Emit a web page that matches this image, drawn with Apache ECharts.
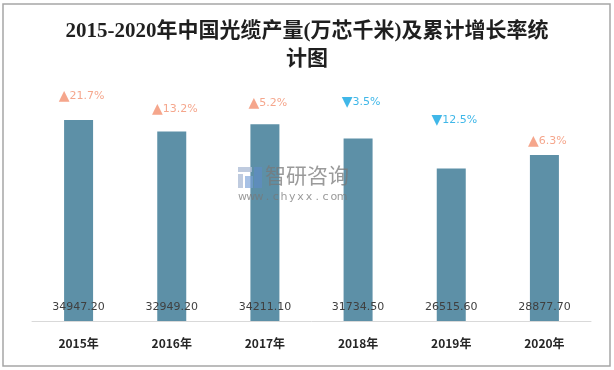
<!DOCTYPE html>
<html>
<head>
<meta charset="utf-8">
<script src="https://cdn.jsdelivr.net/npm/echarts@6/dist/echarts.min.js"></script>
<style>html,body{margin:0;padding:0;background:#fff}#c{width:614px;height:370px}</style>
</head>
<body>
<div id="c"></div>
<script>
const categories = ['2015年', '2016年', '2017年', '2018年', '2019年', '2020年'];
const output = [34947.20, 32949.20, 34211.10, 31734.50, 26515.60, 28877.70];
const growth = [21.7, 13.2, 5.2, -3.5, -12.5, 6.3];
const yTicks = { min: 0, max: 40000 };

// label lift above bar top (layout only)
const lift = [17, 15, 14, 29, 41, 7];

const UP = '#F2906F', DOWN = '#10A5E2';
const wm = 'www.chyxx.com'.split('');

const chart = echarts.init(document.getElementById('c'), null, { renderer: 'canvas' });
chart.setOption({
  backgroundColor: '#fff',
  animation: false,
  title: {
    text: '2015-2020年中国光缆产量(万芯千米)及累计增长率统\n计图',
    left: 'center', top: 13,
    textStyle: { fontFamily: '"Liberation Serif","Noto Sans CJK SC",serif', fontWeight: 'bold', fontSize: 21, color: '#1f1f1f', lineHeight: 28 }
  },
  grid: { left: 32, right: 23, top: 91, bottom: 49 },
  xAxis: {
    type: 'category', data: categories,
    axisLine: { lineStyle: { color: '#D9D9D9', width: 1 } },
    axisTick: { show: false },
    axisLabel: { margin: 16, fontSize: 12, fontWeight: 'bold', color: '#262626', fontFamily: '"Noto Sans CJK SC",sans-serif' }
  },
  yAxis: { type: 'value', min: yTicks.min, max: yTicks.max, show: false, splitLine: { show: false } },
  graphic: {
    z: 50,
    elements: [
      { type: 'rect', shape: { x: 3, y: 4, width: 607, height: 362 }, style: { fill: 'none', stroke: '#A6A6A6', lineWidth: 1.5 }, z: 100 },
      { type: 'group', left: 238, top: 167, z: 50, children: [
        { type: 'rect', z: 50, shape: { x: 0, y: 0, width: 14, height: 5 }, style: { fill: 'rgba(175,190,215,0.8)' } },
        { type: 'rect', z: 50, shape: { x: 0, y: 7, width: 5, height: 14 }, style: { fill: 'rgba(175,190,215,0.8)' } },
        { type: 'rect', z: 50, shape: { x: 16, y: 0, width: 8, height: 21 }, style: { fill: 'rgba(95,140,200,0.6)' } },
        { type: 'rect', z: 50, shape: { x: 7, y: 9, width: 8, height: 12 }, style: { fill: 'rgba(120,160,215,0.65)' } }
      ]},
      { type: 'text', left: 265, top: 165, z: 50, style: { text: '智研咨询', font: '21px "Noto Sans CJK SC"', fill: 'rgba(120,120,120,0.75)' } },
      { type: 'group', left: 238, top: 192, z: 50, children: wm.map((ch, i) => ({
        type: 'text', z: 50, x: i * 8.3, y: 0, style: { text: ch, font: '11px "DejaVu Sans"', fill: 'rgba(120,120,120,0.75)', align: 'center' }
      })) }
    ]
  },
  series: [
    {
      type: 'bar', data: output, barWidth: 29,
      itemStyle: { color: '#5D90A7' },
      label: {
        show: true, position: 'insideBottom', distance: 8,
        formatter: p => p.value.toFixed(2),
        fontSize: 11, color: '#404040', fontFamily: '"DejaVu Sans",sans-serif'
      },
      z: 2
    },
    {
      type: 'scatter', symbolSize: 0, silent: true,
      data: output.map((v, i) => ({
        value: v,
        label: {
          show: true, position: 'top', distance: lift[i], offset: [3, 0],
          formatter: '{t|' + (growth[i] >= 0 ? '▲' : '▼') + '}{v|' + Math.abs(growth[i]).toFixed(1) + '%}',
          rich: {
            t: { fontSize: 14, color: growth[i] >= 0 ? UP : DOWN, fontFamily: '"DejaVu Sans",sans-serif' },
            v: { fontSize: 11, color: growth[i] >= 0 ? UP : DOWN, fontFamily: '"DejaVu Sans",sans-serif' }
          }
        }
      })),
      z: 3
    }
  ]
});
</script>
</body>
</html>
